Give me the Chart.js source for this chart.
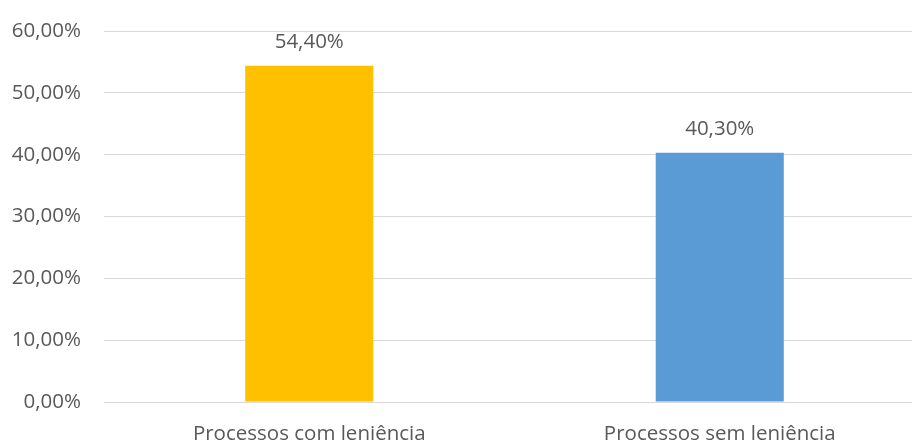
<!DOCTYPE html>
<html>
<head>
<meta charset="utf-8">
<script src="https://cdn.jsdelivr.net/npm/chart.js@4/dist/chart.umd.min.js"></script>
<style>
html,body{margin:0;padding:0;overflow:hidden;background:#fff;width:912px;height:442px;}
#wrap{position:absolute;left:0;top:0;width:925px;height:442px;}
</style>
</head>
<body>
<div id="wrap"><canvas id="c"></canvas></div>
<script>
const categories = ["Processos com leniência", "Processos sem leniência"];
const values = [54.40, 40.30];
const barColors = ["#FFC000", "#5B9BD5"];
const yTicks = [0, 10, 20, 30, 40, 50, 60];

const fmt = v => v.toFixed(2).replace('.', ',') + '%';
const FONT = "'Open Sans', sans-serif";
const FS = 20.5;
const TXT = '#595959';

const labelPlugin = {
  id: 'valueLabels',
  afterDatasetsDraw(chart) {
    const ctx = chart.ctx;
    const meta = chart.getDatasetMeta(0);
    ctx.save();
    ctx.fillStyle = TXT;
    ctx.font = FS + "px " + FONT;
    ctx.textAlign = 'center';
    ctx.textBaseline = 'alphabetic';
    meta.data.forEach((bar, i) => {
      ctx.fillText(fmt(values[i]), bar.x, bar.y - 18);
    });
    ctx.restore();
  }
};

new Chart(document.getElementById('c'), {
  type: 'bar',
  data: {
    labels: categories,
    datasets: [{
      data: values,
      backgroundColor: barColors,
      borderWidth: 0,
      categoryPercentage: 1,
      barPercentage: 0.312
    }]
  },
  options: {
    responsive: true,
    maintainAspectRatio: false,
    animation: false,
    layout: { padding: { top: 31, left: 0, right: 0, bottom: 0 } },
    plugins: { legend: { display: false }, tooltip: { enabled: false } },
    scales: {
      x: {
        grid: { display: false, drawTicks: false },
        border: { display: false },
        ticks: { color: TXT, font: { family: FONT, size: FS }, padding: 20, maxRotation: 0 },
        afterFit(s) { s.height = 40; }
      },
      y: {
        min: 0, max: 60,
        afterBuildTicks(s) { s.ticks = yTicks.map(v => ({ value: v })); },
        grid: { color: '#D9D9D9', lineWidth: 1, drawTicks: false },
        border: { display: false },
        ticks: { color: TXT, font: { family: FONT, size: FS }, padding: 23, callback: v => fmt(v) },
        afterFit(s) { s.width = 104; s.paddingTop = 0; s.paddingBottom = 0; }
      }
    }
  },
  plugins: [labelPlugin]
});
</script>
</body>
</html>
